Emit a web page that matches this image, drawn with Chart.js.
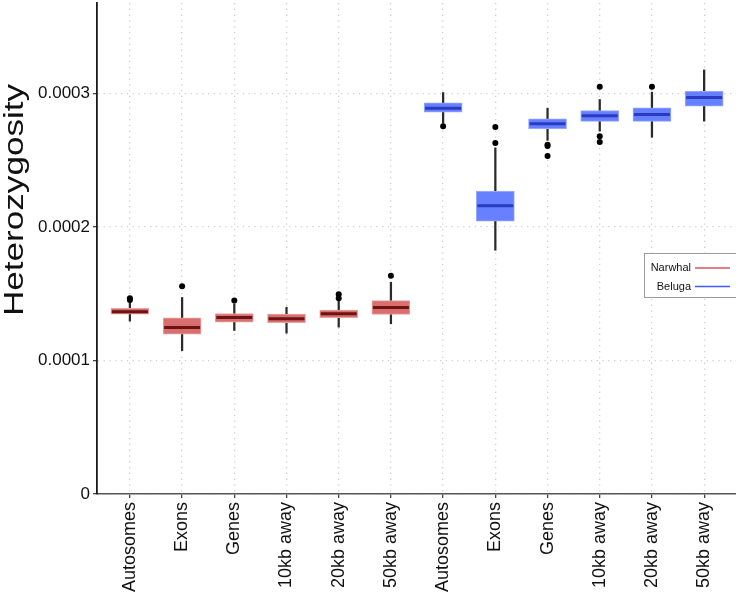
<!DOCTYPE html>
<html>
<head>
<meta charset="utf-8">
<script src="https://cdn.jsdelivr.net/npm/chart.js@4.4.1/dist/chart.umd.min.js"></script>
<style>
  html, body { margin: 0; padding: 0; background: #fff; }
  canvas { display: block; }
</style>
</head>
<body>
<canvas id="heteroChart" width="736" height="597"></canvas>
<script>
// values are in units of 1e-4
const UNIT = 0.0001;
const regions = ['Autosomes', 'Exons', 'Genes', '10kb away', '20kb away', '50kb away'];
const species = ['Narwhal', 'Beluga'];
const categories = regions.concat(regions);

const yTicks = [0, 0.0001, 0.0002, 0.0003];
const yTickLabels = ['0', '0.0001', '0.0002', '0.0003'];

// Narwhal
const narwhalLow    = [1.295, 1.074, 1.225, 1.205, 1.250, 1.275];
const narwhalQ1     = [1.347, 1.198, 1.287, 1.283, 1.320, 1.345];
const narwhalMedian = [1.365, 1.248, 1.322, 1.313, 1.350, 1.397];
const narwhalQ3     = [1.390, 1.320, 1.352, 1.347, 1.377, 1.449];
const narwhalHigh   = [1.434, 1.472, 1.425, 1.399, 1.449, 1.586];
const narwhalOutliers = [[1.466, 1.454], [1.556], [1.449], [], [1.496, 1.466], [1.634]];

// Beluga
const belugaLow    = [2.778, 1.826, 2.649, 2.719, 2.672, 2.793];
const belugaQ1     = [2.860, 2.043, 2.737, 2.791, 2.791, 2.905];
const belugaMedian = [2.890, 2.160, 2.774, 2.834, 2.843, 2.970];
const belugaQ3     = [2.931, 2.267, 2.811, 2.873, 2.893, 3.017];
const belugaHigh   = [3.007, 2.593, 2.890, 2.955, 3.010, 3.177];
const belugaOutliers = [[2.754], [2.749, 2.630], [2.617, 2.607, 2.532], [3.050, 2.679, 2.637], [3.050], []];

const colors = {
  narwhalFill: '#d96e6e', narwhalEdge: '#eba2a2', narwhalMedian: '#6e1313',
  belugaFill: '#6680ff', belugaEdge: '#93a6ff', belugaMedian: '#2a3bc2',
  whisker: '#2b2b2b', outlier: '#000000',
  narwhalKey: '#d9545a', belugaKey: '#3d5cff'
};

Chart.defaults.font.family = '"Liberation Sans", Arial, sans-serif';
Chart.defaults.color = '#1a1a1a';

function boxes(q1, q3, offset) {
  return q1.map((v, i) => ({ x: i + 1 + offset, y: [v * UNIT, q3[i] * UNIT] }));
}
function points(vals, offset) {
  return vals.map((v, i) => ({ x: i + 1 + offset, y: v * UNIT }));
}
function whiskers(lo, hi, offset) {
  return lo.map((v, i) => ({ x: i + 1 + offset, y: [v * UNIT, hi[i] * UNIT] }));
}
function outlierPoints(list, offset) {
  const out = [];
  list.forEach((vals, i) => vals.forEach(v => out.push({ x: i + 1 + offset, y: v * UNIT })));
  return out;
}
// drop the label overhang padding chart.js adds around the axes
function noPadding(axis) {
  axis.paddingTop = 0;
  axis.paddingBottom = 0;
  axis.paddingLeft = 0;
  axis.paddingRight = 0;
}

// y title and legend box drawn by hand
const extrasPlugin = {
  id: 'extras',
  afterDraw(chart) {
    const { ctx, chartArea } = chart;
    ctx.save();
    // axis title
    ctx.translate(16, 200);
    ctx.rotate(-Math.PI / 2);
    ctx.scale(1.3, 1);
    ctx.font = '27px "Liberation Sans", Arial, sans-serif';
    ctx.fillStyle = '#111';
    ctx.textAlign = 'center';
    ctx.textBaseline = 'middle';
    ctx.fillText('Heterozygosity', 0, 0);
    ctx.restore();

    // legend
    const x0 = chartArea.right - 92, y0 = 253;
    ctx.save();
    ctx.fillStyle = '#fff';
    ctx.fillRect(x0, y0, 100, 44);
    ctx.strokeStyle = '#9a9a9a';
    ctx.lineWidth = 1;
    ctx.strokeRect(x0 + 0.5, y0 + 0.5, 100, 44);
    ctx.font = '11px "Liberation Sans", Arial, sans-serif';
    ctx.textAlign = 'right';
    ctx.textBaseline = 'middle';
    const keyColors = [colors.narwhalKey, colors.belugaKey];
    species.forEach((s, i) => {
      const y = y0 + 15 + i * 18.5;
      ctx.fillStyle = '#111';
      ctx.fillText(s, x0 + 47, y);
      ctx.strokeStyle = keyColors[i];
      ctx.lineWidth = 1.6;
      ctx.beginPath();
      ctx.moveTo(x0 + 51, y);
      ctx.lineTo(x0 + 86, y);
      ctx.stroke();
    });
    ctx.restore();
  }
};

const ctx = document.getElementById('heteroChart').getContext('2d');
new Chart(ctx, {
  type: 'bar',
  data: {
    datasets: [
      {
        type: 'bar', label: 'whiskers', order: 5, grouped: false,
        data: whiskers(narwhalLow, narwhalHigh, 0).concat(whiskers(belugaLow, belugaHigh, 6)),
        backgroundColor: colors.whisker, barThickness: 1.6, borderWidth: 0
      },
      {
        type: 'bar', label: 'Narwhal', order: 4, grouped: false,
        data: boxes(narwhalQ1, narwhalQ3, 0),
        backgroundColor: colors.narwhalFill, borderColor: colors.narwhalEdge,
        borderWidth: 1, borderSkipped: false, barThickness: 38
      },
      {
        type: 'bar', label: 'Beluga', order: 4, grouped: false,
        data: boxes(belugaQ1, belugaQ3, 6),
        backgroundColor: colors.belugaFill, borderColor: colors.belugaEdge,
        borderWidth: 1, borderSkipped: false, barThickness: 38
      },
      {
        type: 'scatter', label: 'Narwhal median', order: 2,
        data: points(narwhalMedian, 0),
        pointStyle: 'line', pointRadius: 18, borderColor: colors.narwhalMedian, pointBorderWidth: 3
      },
      {
        type: 'scatter', label: 'Beluga median', order: 2,
        data: points(belugaMedian, 6),
        pointStyle: 'line', pointRadius: 18, borderColor: colors.belugaMedian, pointBorderWidth: 3
      },
      {
        type: 'scatter', label: 'outliers', order: 1,
        data: outlierPoints(narwhalOutliers, 0).concat(outlierPoints(belugaOutliers, 6)),
        pointRadius: 3, backgroundColor: colors.outlier, borderColor: colors.outlier, borderWidth: 0
      }
    ]
  },
  options: {
    responsive: false,
    animation: false,
    events: [],
    layout: { autoPadding: false, padding: { top: 3, left: 0, right: 0, bottom: 0 } },
    plugins: { legend: { display: false }, tooltip: { enabled: false } },
    scales: {
      x: {
        type: 'linear', min: 0.37, max: 12.61, offset: false,
        afterBuildTicks: axis => { axis.ticks = categories.map((c, i) => ({ value: i + 1 })); },
        afterFit: axis => { axis.height = 103; noPadding(axis); },
        ticks: {
          callback: (v, i) => categories[i],
          autoSkip: false, minRotation: 90, maxRotation: 90,
          font: { size: 18 }, color: '#111', padding: 4
        },
        grid: { offset: false, color: '#cfcfcf', lineWidth: 1.3, tickColor: '#444', tickLength: 4 },
        border: { color: '#555', width: 1.5, dash: [1.3, 4.5] }
      },
      y: {
        min: 0, max: 0.0003678,
        afterBuildTicks: axis => { axis.ticks = yTicks.map(v => ({ value: v })); },
        afterFit: axis => { axis.width = 97; noPadding(axis); },
        ticks: {
          callback: (v, i) => yTickLabels[i],
          font: { size: 17 }, color: '#111', padding: 3
        },
        grid: { color: '#cfcfcf', lineWidth: 1.3, tickColor: '#444', tickLength: 4 },
        border: { color: '#1a1a1a', width: 1.8, dash: [1.3, 4.5] }
      }
    }
  },
  plugins: [extrasPlugin]
});
</script>
</body>
</html>
